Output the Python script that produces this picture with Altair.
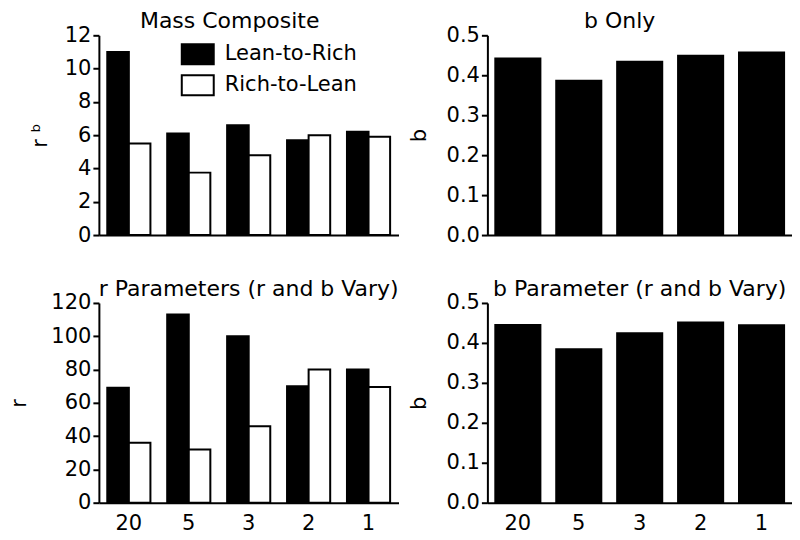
import altair as alt
import pandas as pd

FONT = "DejaVu Sans"

categories = ["20", "5", "3", "2", "1"]
series = ["Lean-to-Rich", "Rich-to-Lean"]

mass_ltr = [11.0, 6.1, 6.6, 5.7, 6.2]
mass_rtl = [5.5, 3.75, 4.8, 6.0, 5.9]
r_ltr = [69, 113, 100, 70, 80]
r_rtl = [36, 32, 46, 80, 69.5]
b_only = [0.442, 0.386, 0.434, 0.449, 0.457]
b_param = [0.445, 0.384, 0.424, 0.451, 0.444]

mass_ticks = [0, 2, 4, 6, 8, 10, 12]
r_ticks = [0, 20, 40, 60, 80, 100, 120]
b_ticks = [0, 0.1, 0.2, 0.3, 0.4, 0.5]


def x_axis(show):
    return alt.Axis(title=None, ticks=False, labels=show, labelAngle=0,
                    labelPadding=10, domain=True)


def grouped(ltr, rtl, title, ytitle, ymax, ticks, show_x, legend, ytp, dx):
    df = pd.DataFrame({
        "cat": categories * 2,
        "series": [series[0]] * len(categories) + [series[1]] * len(categories),
        "value": list(ltr) + list(rtl),
    })
    return alt.Chart(df, title=alt.Title(title, dx=dx, frame="group")).mark_bar(
        stroke="black", strokeWidth=2
    ).encode(
        x=alt.X("cat:N", sort=categories,
                scale=alt.Scale(paddingInner=0.28, paddingOuter=0.14),
                axis=x_axis(show_x)),
        xOffset=alt.XOffset("series:N", sort=series),
        y=alt.Y("value:Q", scale=alt.Scale(domain=[0, ymax], nice=False),
                axis=alt.Axis(values=ticks, title=ytitle, titlePadding=ytp,
                              grid=False, format="d")),
        fill=alt.Fill("series:N", sort=series,
                      scale=alt.Scale(domain=series, range=["black", "white"]),
                      legend=legend),
    ).properties(width=300, height=200)


def single(vals, title, show_x, ytp, dx):
    df = pd.DataFrame({"cat": categories, "value": vals})
    return alt.Chart(df, title=alt.Title(title, dx=dx, frame="group")).mark_bar(
        fill="black", stroke="black", strokeWidth=2
    ).encode(
        x=alt.X("cat:N", sort=categories,
                scale=alt.Scale(paddingInner=0.26, paddingOuter=0.13),
                axis=x_axis(show_x)),
        y=alt.Y("value:Q", scale=alt.Scale(domain=[0, 0.5], nice=False),
                axis=alt.Axis(values=b_ticks, title="b", titlePadding=ytp,
                              grid=False, format=".1f")),
    ).properties(width=305, height=200)


legend = alt.Legend(
    orient="none", legendX=82, legendY=2, title=None,
    symbolType="M-1,-0.625L1,-0.625L1,0.625L-1,0.625Z", symbolSize=1024,
    symbolStrokeColor="black", symbolStrokeWidth=2,
    labelFont=FONT, labelFontSize=21, labelColor="black", labelOffset=10,
    rowPadding=-5, padding=0,
)

tl = grouped(mass_ltr, mass_rtl, "Mass Composite", "r \u1d47", 12, mass_ticks,
             False, legend, 14, -19)
bl = grouped(r_ltr, r_rtl, "r Parameters (r and b Vary)", "r", 120, r_ticks,
             True, None, 21, 0)
tr = single(b_only, "b Only", False, 17, -20)
br = single(b_param, "b Parameter (r and b Vary)", True, 17, 0)

chart = alt.concat(
    tl, tr, bl, br, columns=2, spacing={"row": 33, "column": 8}
).resolve_scale(fill="independent").resolve_legend(fill="independent").properties(
    padding={"left": 0, "top": 2, "right": 0, "bottom": 0}
).configure_view(stroke=None).configure_axis(
    domainColor="black", domainWidth=2, tickColor="black", tickWidth=2, tickSize=6,
    labelFont=FONT, labelFontSize=21, labelColor="black", labelPadding=2,
    titleFont=FONT, titleFontSize=21, titleFontWeight="normal", titleColor="black",
).configure_title(
    font=FONT, fontSize=22, fontWeight="normal", color="black", offset=-9
)

chart.save("out.html", embed_options={"renderer": "svg", "actions": False})
